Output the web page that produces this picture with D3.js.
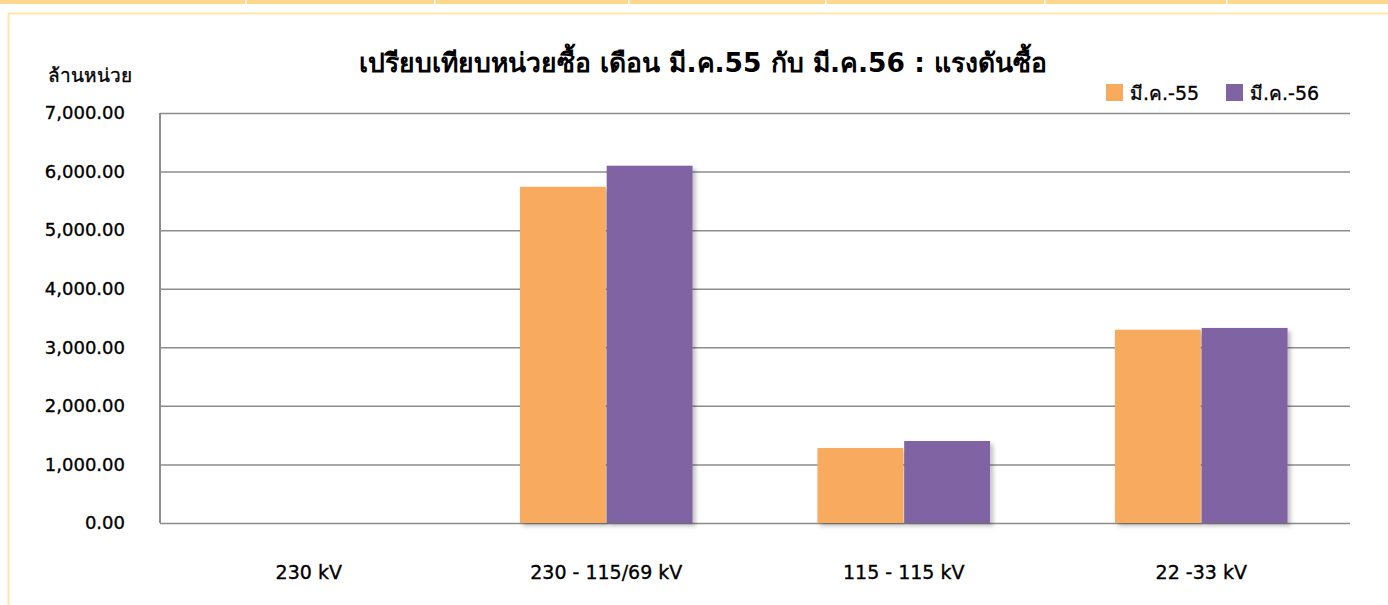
<html>
<head>
<script src="https://d3js.org/d3.v7.min.js"></script>
<style>
  body { margin: 0; background: #fff; }
  svg text { font-family: "DejaVu Sans", Tahoma, sans-serif; fill: #000; stroke: #000; stroke-width: 0.35px; }
  svg text.title { stroke-width: 0; }
</style>
</head>
<body>
<svg id="chart"></svg>
<script>
// data
var categories = ["230 kV", "230 - 115/69 kV", "115 - 115 kV", "22 -33 kV"];
var seriesNames = ["มี.ค.-55", "มี.ค.-56"];
var values55 = [0, 5740, 1280, 3300];
var values56 = [0, 6100, 1400, 3330];
var yTicks = [0, 1000, 2000, 3000, 4000, 5000, 6000, 7000];
var colors = ["#f8ab5e", "#8064a2"];

var width = 1388, height = 605;
var margin = {top: 113, right: 38, bottom: 82, left: 160};

var svg = d3.select("#chart").attr("width", width).attr("height", height);

// drop shadow for bars
var defs = svg.append("defs");
var f = defs.append("filter").attr("id", "shadow")
    .attr("x", "-10%").attr("y", "-10%").attr("width", "130%").attr("height", "130%");
f.append("feDropShadow").attr("dx", 3).attr("dy", 3).attr("stdDeviation", 2)
    .attr("flood-color", "#000").attr("flood-opacity", 0.25);

// top page strip
svg.append("rect").attr("x", 0).attr("y", 0).attr("width", width).attr("height", 4).attr("fill", "#fdd88c");
[245, 434, 628, 825, 1044, 1226].forEach(function(sx) {
  svg.append("rect").attr("x", sx).attr("y", 0).attr("width", 1.5).attr("height", 4).attr("fill", "#fff");
});
// chart frame
svg.append("rect").attr("x", 8.5).attr("y", 13.5).attr("width", width).attr("height", height)
    .attr("fill", "#fff").attr("stroke", "#fde8a8").attr("stroke-width", 2);

var x0 = d3.scaleBand().domain(categories).range([margin.left, width - margin.right]);
var x1 = d3.scaleBand().domain(seriesNames).range([0, x0.bandwidth()]).paddingOuter(0.72).paddingInner(0.01);
var y = d3.scaleLinear().domain([0, 7000]).range([height - margin.bottom, margin.top]);

// grid
svg.append("g").attr("class", "grid")
  .attr("transform", "translate(" + margin.left + ",0)")
  .call(d3.axisLeft(y).tickValues(yTicks).tickSize(-(width - margin.left - margin.right)).tickFormat(""))
  .call(function(g) {
    g.select(".domain").remove();
    g.selectAll("line").attr("stroke", "#8c8c8c").attr("stroke-width", 1.5);
  });
// left axis line
svg.append("line").attr("x1", margin.left).attr("x2", margin.left)
  .attr("y1", y(7000)).attr("y2", y(0)).attr("stroke", "#8c8c8c").attr("stroke-width", 2);

// y tick labels
svg.append("g")
  .selectAll("text").data(yTicks).enter().append("text")
  .attr("x", 125).attr("y", function(d) { return y(d); }).attr("dy", "0.35em")
  .attr("text-anchor", "end").style("font-size", "18px")
  .text(function(d) { return d3.format(",.2f")(d); });

// bars
var rows = categories.map(function(c, i) { return {cat: c, vals: [values55[i], values56[i]]}; });
var groups = svg.append("g").selectAll("g").data(rows).enter().append("g")
  .attr("transform", function(d) { return "translate(" + x0(d.cat) + ",0)"; });
groups.selectAll("rect").data(function(d) { return d.vals.map(function(v, j) { return {s: seriesNames[j], v: v, j: j}; }); })
  .enter().append("rect")
  .attr("x", function(d) { return x1(d.s); })
  .attr("y", function(d) { return y(d.v); })
  .attr("width", x1.bandwidth())
  .attr("height", function(d) { return y(0) - y(d.v); })
  .attr("fill", function(d) { return colors[d.j]; })
  .attr("filter", "url(#shadow)");

// x labels
svg.append("g").selectAll("text").data(categories).enter().append("text")
  .attr("x", function(d) { return x0(d) + x0.bandwidth() / 2; })
  .attr("y", 579).attr("text-anchor", "middle").style("font-size", "19px")
  .text(function(d) { return d; });

// title
svg.append("text").attr("class", "title").attr("x", 703).attr("y", 72).attr("text-anchor", "middle")
  .style("font-size", "26.5px").style("font-weight", "bold")
  .text("เปรียบเทียบหน่วยซื้อ เดือน มี.ค.55 กับ มี.ค.56 : แรงดันซื้อ");

// y axis title
svg.append("text").attr("x", 48).attr("y", 82).style("font-size", "19px").text("ล้านหน่วย");

// legend
var legX = [1106, 1226];
seriesNames.forEach(function(s, i) {
  svg.append("rect").attr("x", legX[i]).attr("y", 84).attr("width", 17).attr("height", 17).attr("fill", colors[i]);
  svg.append("text").attr("x", legX[i] + 24).attr("y", 100).style("font-size", "19px").text(s);
});
</script>
</body>
</html>
